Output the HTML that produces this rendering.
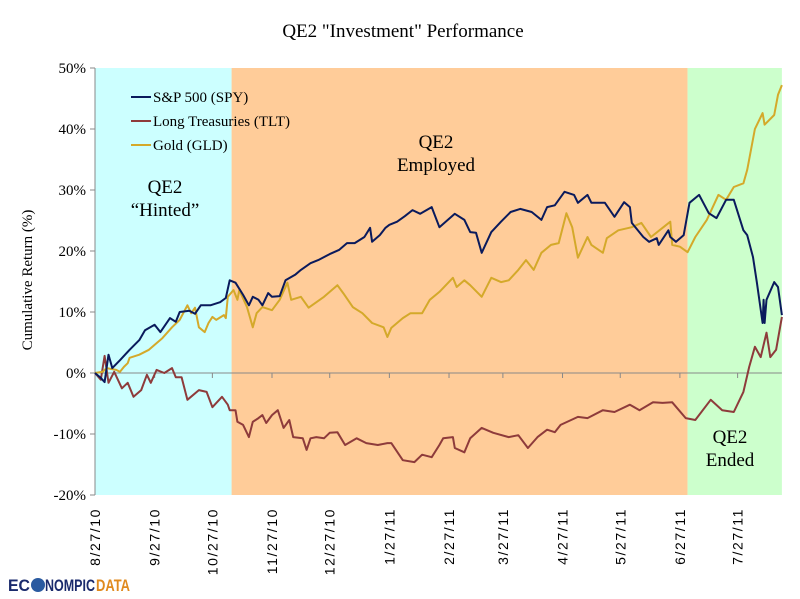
<!DOCTYPE html>
<html><head><meta charset="utf-8"><style>
html,body{margin:0;padding:0;background:#fff;}
svg{display:block;font-family:"Liberation Serif",serif;}
</style></head><body>
<svg id="chart" width="800" height="599" viewBox="0 0 800 599">
<text x="403" y="37" text-anchor="middle" font-size="19">QE2 "Investment" Performance</text>
<g id="bg"></g>
<g id="axes"></g>
<g id="series"></g>
<g font-size="15">
 <g><line x1="131" y1="97" x2="151" y2="97" stroke="#0a1a5c" stroke-width="2"/><text x="153" y="102">S&amp;P 500 (SPY)</text></g>
 <g><line x1="131" y1="121" x2="151" y2="121" stroke="#8e3b3b" stroke-width="2"/><text x="153" y="126">Long Treasuries (TLT)</text></g>
 <g><line x1="131" y1="145" x2="151" y2="145" stroke="#d4a92a" stroke-width="2"/><text x="153" y="150">Gold (GLD)</text></g>
</g>
<g font-size="19" text-anchor="middle">
 <text x="165" y="193"><tspan x="165">QE2</tspan><tspan x="165" dy="23">“Hinted”</tspan></text>
 <text x="436" y="148"><tspan x="436">QE2</tspan><tspan x="436" dy="23">Employed</tspan></text>
 <text x="730" y="443"><tspan x="730">QE2</tspan><tspan x="730" dy="23">Ended</tspan></text>
</g>
<text transform="translate(32,280) rotate(-90)" text-anchor="middle" font-size="15">Cumulative Return (%)</text>
<g font-family="'Liberation Sans',sans-serif" font-weight="bold" font-size="17">
 <text x="8" y="591" fill="#1a2a6c" textLength="22" lengthAdjust="spacingAndGlyphs">EC</text>
 <circle cx="38" cy="585" r="7" fill="#2a5aa0"/>
 <text x="45" y="591" fill="#1a2a6c" textLength="50" lengthAdjust="spacingAndGlyphs">NOMPIC</text>
 <text x="96" y="591" fill="#e08a1e" textLength="34" lengthAdjust="spacingAndGlyphs">DATA</text>
</g>
</svg>
<script>
const yTicks=[50,40,30,20,10,0,-10,-20];
const xTickDays=[0,31,61,92,122,153,184,212,243,273,304,334];
const xTickLabels=["8/27/10","9/27/10","10/27/10","11/27/10","12/27/10","1/27/11","2/27/11","3/27/11","4/27/11","5/27/11","6/27/11","7/27/11"];
const regionStarts=[0,71,308];
const regionEnds=[71,308,357];
const regionNames=["hinted","employed","ended"];
const spyDays=[0,3,5,7,9,13,18,23,26,31,34,39,42,44,49,52,55,60,65,68,70,73,77,80,82,85,87,90,92,96,99,104,107,112,116,122,127,131,135,140,143,144,148,151,153,157,161,165,169,175,179,187,192,195,198,201,206,211,216,221,227,232,235,239,244,249,251,256,258,265,270,275,278,279,285,288,292,293,298,299,302,306,309,314,319,323,328,332,337,339,342,344,347,347.5,348,349,353,355,357];
const spyVals=[0,-0.8,-1.5,3.0,0.8,2.1,3.8,5.4,7.0,7.9,6.7,9.0,8.4,10.0,10.2,9.7,11.1,11.1,11.6,12.3,15.2,14.8,12.8,11.1,12.5,12.0,11.1,13.1,12.5,12.6,15.2,16.1,16.9,18.0,18.5,19.5,20.2,21.3,21.3,22.3,23.8,21.5,22.6,23.8,24.3,24.8,25.7,26.7,26.1,27.2,23.9,26.1,25.1,23.1,23.0,19.7,23.1,24.8,26.4,26.9,26.4,25.1,27.2,27.5,29.7,29.2,27.9,29.2,27.9,27.9,25.6,28.0,27.2,24.6,22.3,21.5,22.1,21.0,23.4,22.3,21.5,22.6,27.9,29.2,26.2,25.4,28.4,28.4,23.4,22.6,19.0,14.8,8.2,12.0,8.2,12.0,14.9,14.1,9.5];
const gldDays=[0,4,6,11,13,15,17,18,23,28,32,35,40,44,48,50,52,54,57,59,61,63,67,68,69,72,74,75,79,82,84,87,92,96,100,102,107,111,119,126,129,134,139,144,150,152,154,160,164,170,174,179,186,188,192,195,201,206,211,215,220,224,228,232,237,241,245,248,251,256,258,264,266,272,279,284,289,295,299,300,304,308,312,318,324,328,332,337,339,343,347,348,353,355,357];
const gldVals=[0,0.2,0.8,0.5,0.2,1.0,1.6,2.5,3.0,3.8,4.9,5.7,7.5,8.7,11.1,9.8,10.7,7.5,6.7,8.2,9.2,8.7,9.5,9.0,12.5,13.6,12.0,13.6,10.8,7.5,9.8,10.8,10.3,12.0,14.8,12.0,12.5,10.7,12.5,14.4,13.1,10.8,9.8,8.2,7.5,5.9,7.4,9.0,9.8,9.8,12.0,13.3,15.6,14.1,15.2,14.4,12.5,15.6,14.9,15.2,16.9,18.5,16.9,19.7,21.0,21.3,26.2,23.9,18.9,22.3,21.0,19.7,22.1,23.4,23.9,24.6,22.3,23.8,24.8,21.0,20.7,19.8,22.3,25.1,29.2,28.4,30.5,31.1,33.3,40.0,42.6,40.7,42.3,45.6,47.2];
const tltDays=[0,3,5,7,10,14,17,20,24,27,29,32,36,40,42,45,48,54,58,61,66,69,70,73,74,77,80,82,85,87,89,92,95,98,101,103,108,110,112,115,119,122,126,130,136,141,147,152,154,160,166,170,175,179,181,186,187,192,195,201,207,215,220,225,230,235,239,242,251,256,264,270,278,283,290,295,300,307,312,320,326,332,337,340,343,346,349,351,354,357];
const tltVals=[0,-1.1,2.8,-1.6,0.2,-2.5,-1.6,-3.9,-2.8,-0.3,-1.6,0.5,0,0.8,-0.7,-0.7,-4.4,-2.8,-3.1,-5.6,-3.9,-5.2,-6.1,-6.1,-8.0,-8.5,-10.5,-8.0,-7.4,-6.9,-8.2,-6.9,-6.1,-9.0,-7.7,-10.5,-10.7,-12.6,-10.7,-10.5,-10.7,-9.8,-9.7,-11.8,-10.7,-11.5,-11.8,-11.5,-11.5,-14.3,-14.6,-13.4,-13.8,-11.8,-10.7,-10.5,-12.3,-13.0,-10.7,-9.0,-9.8,-10.5,-10.2,-12.3,-10.5,-9.3,-9.7,-8.5,-7.2,-7.4,-6.1,-6.4,-5.2,-6.1,-4.8,-4.9,-4.8,-7.4,-7.7,-4.4,-6.1,-6.4,-3.1,1.0,4.3,2.6,6.6,2.6,3.8,9.2];

const NS="http://www.w3.org/2000/svg";
const X0=95,PXD=1.924,Y0=373,PXV=6.1;
function xs(d){return X0+d*PXD;}
function ys(v){return Y0-v*PXV;}
function mk(tag,attrs,parent){const e=document.createElementNS(NS,tag);for(const k in attrs)e.setAttribute(k,attrs[k]);parent.appendChild(e);return e;}
const bg=document.getElementById('bg'),axes=document.getElementById('axes'),series=document.getElementById('series');
const colors=["#ccffff","#ffcc99","#ccffcc"];
for(let i=0;i<regionStarts.length;i++){
  const r=mk('rect',{x:xs(regionStarts[i]),y:ys(50),width:xs(regionEnds[i])-xs(regionStarts[i]),height:ys(-20)-ys(50),fill:colors[i]},bg);
  
  
}
const yax=mk('line',{x1:X0,y1:ys(50),x2:X0,y2:ys(-20),stroke:'#888','stroke-width':1},axes);


yTicks.forEach(v=>{
  mk('line',{x1:X0-5,y1:ys(v),x2:X0,y2:ys(v),stroke:'#888'},axes);
  const t=mk('text',{x:X0-9,y:ys(v)+5,'text-anchor':'end','font-size':15},axes);
  t.textContent=v+'%';
  
  
});
const zl=mk('line',{x1:X0,y1:ys(0),x2:xs(357),y2:ys(0),stroke:'#888','stroke-width':1},axes);


xTickDays.forEach((d,i)=>{
  mk('line',{x1:xs(d),y1:ys(0),x2:xs(d),y2:ys(0)+5,stroke:'#888'},axes);
  const t=mk('text',{transform:`translate(${xs(d)+5},508) rotate(-90)`,'text-anchor':'end','font-size':14,'letter-spacing':'1.6','font-family':"'Liberation Sans',sans-serif"},axes);
  t.textContent=xTickLabels[i];
  
  
});
function line(days,vals,color,name){
  const d=days.map((dd,i)=>(i?'L':'M')+xs(dd).toFixed(1)+','+ys(vals[i]).toFixed(1)).join(' ');
  const p=mk('path',{d:d,fill:'none',stroke:color,'stroke-width':2,'stroke-linejoin':'round'},series);
  
  
}
line(tltDays,tltVals,'#8e3b3b','series-tlt-line');
line(gldDays,gldVals,'#d4a92a','series-gld-line');
line(spyDays,spyVals,'#0a1a5c','series-spy-line');
</script>
</body></html>
